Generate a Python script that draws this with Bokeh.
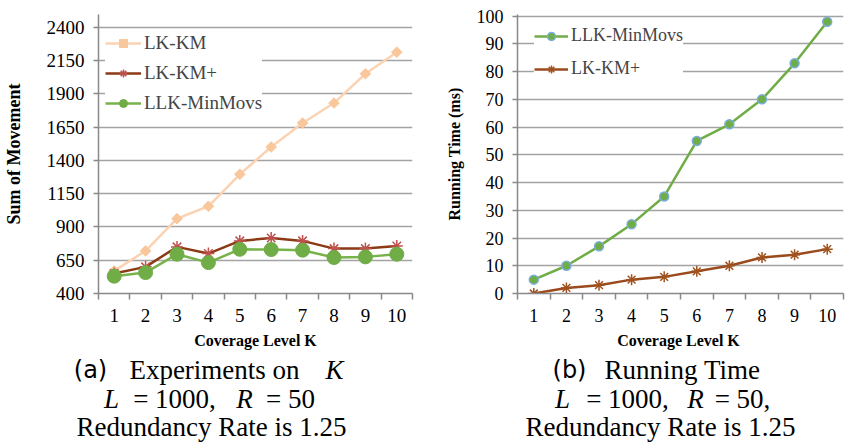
import math
from bokeh.plotting import figure
from bokeh.layouts import row, column
from bokeh.models import (Range1d, FixedTicker, Legend, LegendItem, Label)
from bokeh.embed import file_html
from bokeh.resources import INLINE

# ---------------- data ----------------
K = [1, 2, 3, 4, 5, 6, 7, 8, 9, 10]
lk_km = [570, 720, 962, 1055, 1295, 1500, 1680, 1830, 2050, 2212]
lk_km_plus = [550, 600, 750, 700, 795, 817, 795, 737, 737, 757]
llk_minmovs = [530, 557, 695, 632, 732, 730, 725, 670, 675, 695]

time_llk = [5, 10, 17, 25, 35, 55, 61, 70, 83, 98]
time_lkkm_plus = [0, 2, 3, 5, 6, 8, 10, 13, 14, 16]

y1_ticks = [400, 650, 900, 1150, 1400, 1650, 1900, 2150, 2400]
y2_ticks = [0, 10, 20, 30, 40, 50, 60, 70, 80, 90, 100]
x_minor = [0.5 + i for i in range(11)]

# caption pieces: (text, kind) where kind is "label", "roman" or "italic"
cap_a = [[("(a)", "label"), ("Experiments on", "roman"), ("K", "italic")],
         [("L", "italic"), ("= 1000,", "roman"), ("R", "italic"), ("= 50", "roman")],
         [("Redundancy Rate is 1.25", "roman")]]
cap_b = [[("(b)", "label"), ("Running Time", "roman")],
         [("L", "italic"), ("= 1000,", "roman"), ("R", "italic"), ("= 50,", "roman")],
         [("Redundancy Rate is 1.25", "roman")]]

SERIF = "Liberation Serif"
AXIS_C = "#898989"
GRID_C = "#A3A3A3"


def style(p, yticks, ylabel, tick_fs, ylab_fs, ylab_standoff):
    p.outline_line_color = None
    p.background_fill_color = "white"
    p.border_fill_color = "white"
    p.xgrid.visible = False
    p.ygrid.ticker = FixedTicker(ticks=yticks)
    p.ygrid.grid_line_color = GRID_C
    p.ygrid.grid_line_width = 1.5

    ya = p.yaxis[0]
    ya.ticker = FixedTicker(ticks=yticks)
    ya.axis_line_color = AXIS_C
    ya.axis_line_width = 1.5
    ya.major_tick_line_color = AXIS_C
    ya.major_tick_line_width = 1.5
    ya.major_tick_out = 5
    ya.major_tick_in = 0
    ya.minor_tick_line_color = None
    ya.major_label_text_font = SERIF
    ya.major_label_text_font_size = tick_fs
    ya.major_label_text_color = "black"
    ya.major_label_standoff = 9
    ya.axis_label = ylabel
    ya.axis_label_text_font = SERIF
    ya.axis_label_text_font_style = "bold"
    ya.axis_label_text_font_size = ylab_fs
    ya.axis_label_text_color = "black"
    ya.axis_label_standoff = ylab_standoff

    xa = p.xaxis[0]
    xa.ticker = FixedTicker(ticks=K, minor_ticks=x_minor)
    xa.axis_line_color = AXIS_C
    xa.axis_line_width = 1.5
    xa.major_tick_line_color = None
    xa.major_tick_out = 0
    xa.major_tick_in = 0
    xa.minor_tick_line_color = AXIS_C
    xa.minor_tick_line_width = 1.5
    xa.minor_tick_out = 6
    xa.minor_tick_in = 0
    xa.major_label_text_font = SERIF
    xa.major_label_text_font_size = tick_fs
    xa.major_label_text_color = "black"
    xa.major_label_standoff = 9
    xa.axis_label_text_font = SERIF
    xa.axis_label_text_font_style = "bold"
    xa.axis_label_text_font_size = "16px"
    xa.axis_label_text_color = "black"
    xa.axis_label_standoff = 7


# ---------------- left panel ----------------
p1 = figure(width=424, height=355, min_border_left=96, min_border_right=12,
            min_border_top=14, min_border_bottom=62,
            x_range=Range1d(0.5, 10.5), y_range=Range1d(400, 2495),
            output_backend="svg", toolbar_location=None)
style(p1, y1_ticks, "Sum of Movement", "19px", "18px", 20)
p1.xaxis[0].axis_label = "Coverage Level K"

l1 = p1.line(K, lk_km, line_color="#FBD3B2", line_width=2.5)
s1 = p1.scatter(K, lk_km, marker="square", angle=math.pi / 4, size=7.5,
                fill_color="#F9C79C", line_color="#F9C79C")
l2 = p1.line(K, lk_km_plus, line_color="#8B3A14", line_width=2.5)
s2 = p1.scatter(K, lk_km_plus, marker="asterisk", size=12,
                line_color="#C0504D", line_width=1.5)
l3 = p1.line(K, llk_minmovs, line_color="#77B24A", line_width=2.5)
s3 = p1.scatter(K, llk_minmovs, marker="circle", size=14,
                fill_color="#70AD47", line_color="#70AD47")

leg1 = Legend(items=[LegendItem(label="LK-KM", renderers=[l1, s1]),
                     LegendItem(label="LK-KM+", renderers=[l2, s2]),
                     LegendItem(label="LLK-MinMovs", renderers=[l3, s3])],
              location=(7, 179), padding=6, spacing=8, margin=0,
              glyph_width=36, glyph_height=20, label_standoff=3,
              label_text_font=SERIF, label_text_font_size="19px",
              border_line_color=None, background_fill_color="white",
              background_fill_alpha=1.0)
p1.add_layout(leg1)

# ---------------- right panel ----------------
p2 = figure(width=424, height=355, min_border_left=93, min_border_right=5,
            min_border_top=14, min_border_bottom=62,
            x_range=Range1d(0.5, 10.5), y_range=Range1d(0, 100.6),
            output_backend="svg", toolbar_location=None)
style(p2, y2_ticks, "Running Time (ms)", "18px", "16px", 11)
p2.xaxis[0].axis_label = "Coverage Level  K"

m1 = p2.line(K, time_llk, line_color="#70AD47", line_width=2.5)
n1 = p2.scatter(K, time_llk, marker="circle", size=9,
                fill_color="#70AD47", line_color="#79AEDD", line_width=1.5)
m2 = p2.line(K, time_lkkm_plus, line_color="#9A4A1C", line_width=2.5)
n2 = p2.scatter(K, time_lkkm_plus, marker="asterisk", size=11,
                line_color="#A0521E", line_width=1.5)

leg2 = Legend(items=[LegendItem(label="LLK-MinMovs", renderers=[m1, n1]),
                     LegendItem(label="LK-KM+", renderers=[m2, n2])],
              location=(17, 214), padding=9, spacing=12, margin=0,
              glyph_width=34, glyph_height=20, label_standoff=3,
              label_text_font=SERIF, label_text_font_size="18px",
              border_line_color=None, background_fill_color="white",
              background_fill_alpha=1.0)
p2.add_layout(leg2)

# ---------------- captions (pixel-unit panel under both charts) ----------------
cap_top, cap_h = 355, 90
pc = figure(width=848, height=cap_h, min_border=0,
            x_range=Range1d(0, 848), y_range=Range1d(cap_top + cap_h, cap_top),
            x_axis_type=None, y_axis_type=None,
            output_backend="svg", toolbar_location=None)
pc.outline_line_color = None
pc.grid.visible = False
pc.background_fill_color = "white"
pc.border_fill_color = "white"

baselines = [369, 398, 426]
centers_a = [[90, 214, 334], [111, 174, 244, 290], [211]]
centers_b = [[569, 682], [562, 627, 695, 742], [660]]

for cap, centers in ((cap_a, centers_a), (cap_b, centers_b)):
    for line, xs, yb in zip(cap, centers, baselines):
        for (txt, kind), xc in zip(line, xs):
            pc.add_layout(Label(
                x=xc, y=yb, text=txt, text_align="center",
                text_baseline="alphabetic",
                text_font="DejaVu Sans" if kind == "label" else SERIF,
                text_font_style="italic" if kind == "italic" else "normal",
                text_font_size="24px" if kind == "label" else "27px",
                text_color="black"))

layout = column(row(p1, p2, spacing=0), pc, spacing=0)
open("out.html", "w").write(file_html(layout, INLINE))
